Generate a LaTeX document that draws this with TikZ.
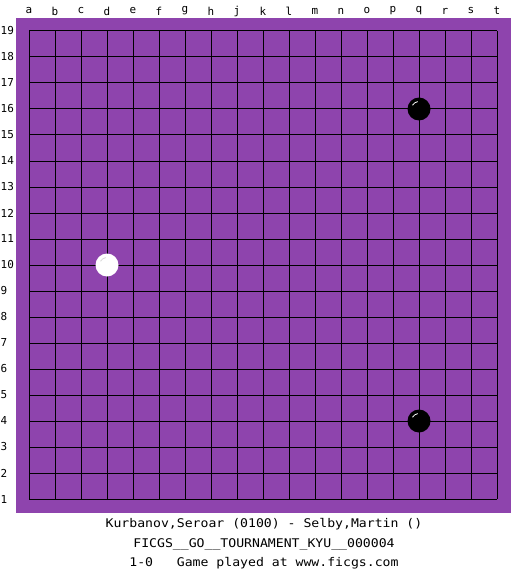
\documentclass[tikz,border=0pt]{standalone}
\usepackage{fontspec}
\newfontfamily\monofont[FakeStretch=1.1]{DejaVu Sans Mono}
\newfontfamily\labfont{DejaVu Sans Mono}
\definecolor{boardpurple}{RGB}{142,68,173}
\tikzset{
  gridline/.style={line width=1bp, black},
  collabel/.style={font=\labfont\fontsize{11}{13}\selectfont, inner sep=0pt, anchor=center},
  rowlabel/.style={font=\labfont\fontsize{11}{13}\selectfont, inner sep=0pt, anchor=west},
  caption/.style={font=\monofont\fontsize{12}{14}\selectfont, inner sep=0pt, anchor=center},
  blackstone/.style={circle, fill=black, minimum size=23bp, inner sep=0pt},
  whitestone/.style={circle, fill=white, minimum size=23bp, inner sep=0pt},
}
\begin{document}
\begin{tikzpicture}[x=1bp,y=-1bp]
\useasboundingbox (0,0) rectangle (525,575);
\fill[white] (0,0) rectangle (525,575);
\fill[boardpurple] (16,18) rectangle (511,513);
\foreach \i in {0,...,18} {
  \draw[gridline] ({29+26*\i},31) -- ({29+26*\i},499);
  \draw[gridline] (29,{31+26*\i}) -- (497,{31+26*\i});
}
\foreach \l [count=\i from 0] in {a,b,c,d,e,f,g,h,j,k,l,m,n,o,p,q,r,s,t} {
  \node[collabel] (col\l) at ({29+26*\i},11) {\l};
}
\foreach \i in {1,...,19} {
  \node[rowlabel] (row\i) at (0.5,{31+26*(19-\i)}) {\i};
}
\node[blackstone] (q16) at (419,109) {};
\node[blackstone] (q4) at (419,421) {};
\node[whitestone] (d10) at (107,265) {};
\draw[white, line width=0.8bp] ([shift={(210:7.5)}]q16.center) arc[start angle=210, end angle=260, radius=7.5];
\draw[white, line width=0.8bp] ([shift={(210:7.5)}]q4.center) arc[start angle=210, end angle=260, radius=7.5];
\draw[gray!30, line width=0.8bp] ([shift={(210:7.5)}]d10.center) arc[start angle=210, end angle=260, radius=7.5];
\node[caption] (t1) at (264,524) {Kurbanov,Seroar (0100) - Selby,Martin ()};
\node[caption] (t2) at (264,544) {FICGS\_\_GO\_\_TOURNAMENT\_KYU\_\_000004};
\node[caption] (t3) at (264,563) {1-0\ \ \ Game played at www.ficgs.com};
\end{tikzpicture}
\end{document}
